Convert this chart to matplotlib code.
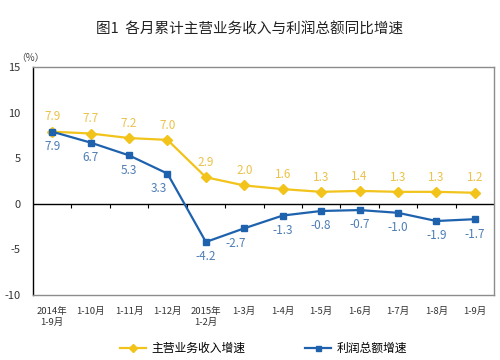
import matplotlib.pyplot as plt
import numpy as np

plt.rcParams['font.family'] = ['Noto Sans CJK SC', 'DejaVu Sans']

months = ['2014年\n1-9月', '1-10月', '1-11月', '1-12月', '2015年\n1-2月', '1-3月',
          '1-4月', '1-5月', '1-6月', '1-7月', '1-8月', '1-9月']
revenue = [7.9, 7.7, 7.2, 7.0, 2.9, 2.0, 1.6, 1.3, 1.4, 1.3, 1.3, 1.2]
profit = [7.9, 6.7, 5.3, 3.3, -4.2, -2.7, -1.3, -0.8, -0.7, -1.0, -1.9, -1.7]
y_ticks = [-10, -5, 0, 5, 10, 15]

YELLOW = '#F2C31A'
YELLOW_TXT = '#EBC24A'
BLUE = '#1E62AE'
BLUE_TXT = '#4D7DB5'

fig = plt.figure(figsize=(5, 3.6), dpi=100)
ax = fig.add_axes([0.066, 0.181, 0.922, 0.633])

x = np.arange(len(months))
ax.plot(x, revenue, color=YELLOW, lw=1.6, marker='D', ms=5,
        label='主营业务收入增速', zorder=3)
ax.plot(x, profit, color=BLUE, lw=1.6, marker='s', ms=4.5,
        label='利润总额增速', zorder=3)

for i, v in enumerate(revenue):
    ax.annotate(f'{v:.1f}', (i, v), xytext=(0, 6), textcoords='offset points',
                ha='center', va='bottom', fontsize=8.5, color=YELLOW_TXT)
for i, v in enumerate(profit):
    dx = -6 if i in (3, 5) else 0
    ax.annotate(f'{v:.1f}', (i, v), xytext=(dx, -6), textcoords='offset points',
                ha='center', va='top', fontsize=8.5, color=BLUE_TXT)

# zero line with category dividers
ax.axhline(0, color='black', lw=1, zorder=2)
ax.vlines(x[:-1] + 0.5, -0.45, 0, color='black', lw=0.8)

ax.set_xlim(-0.5, len(months) - 0.5)
ax.set_ylim(-10, 15)
ax.set_yticks(y_ticks)
ax.set_yticklabels([str(t) for t in y_ticks], fontsize=8, color='#333333')
ax.set_xticks(x)
ax.set_xticklabels(months, fontsize=6.8, color='#333333', va='top')
ax.tick_params(axis='both', length=0)
ax.tick_params(axis='x', pad=9)
ax.tick_params(axis='y', pad=9)

for s in ('top', 'right', 'bottom'):
    ax.spines[s].set_color('#8c8c8c')
    ax.spines[s].set_linewidth(1)
ax.spines['left'].set_color('black')
ax.spines['left'].set_linewidth(1)

fig.text(0.5, 0.918, '图1  各月累计主营业务收入与利润总额同比增速',
         ha='center', va='center', fontsize=10.5, color='#222222')
fig.text(0.06, 0.84, '（%）', ha='center', va='center', fontsize=7,
         color='#444444')

ax.legend(loc='upper center', bbox_to_anchor=(0.5, -0.16), ncol=2,
          frameon=False, fontsize=8.5, columnspacing=5, handlelength=2.2,
          handletextpad=0.5, markerscale=0.8)

fig.savefig('out.png', dpi=100)
